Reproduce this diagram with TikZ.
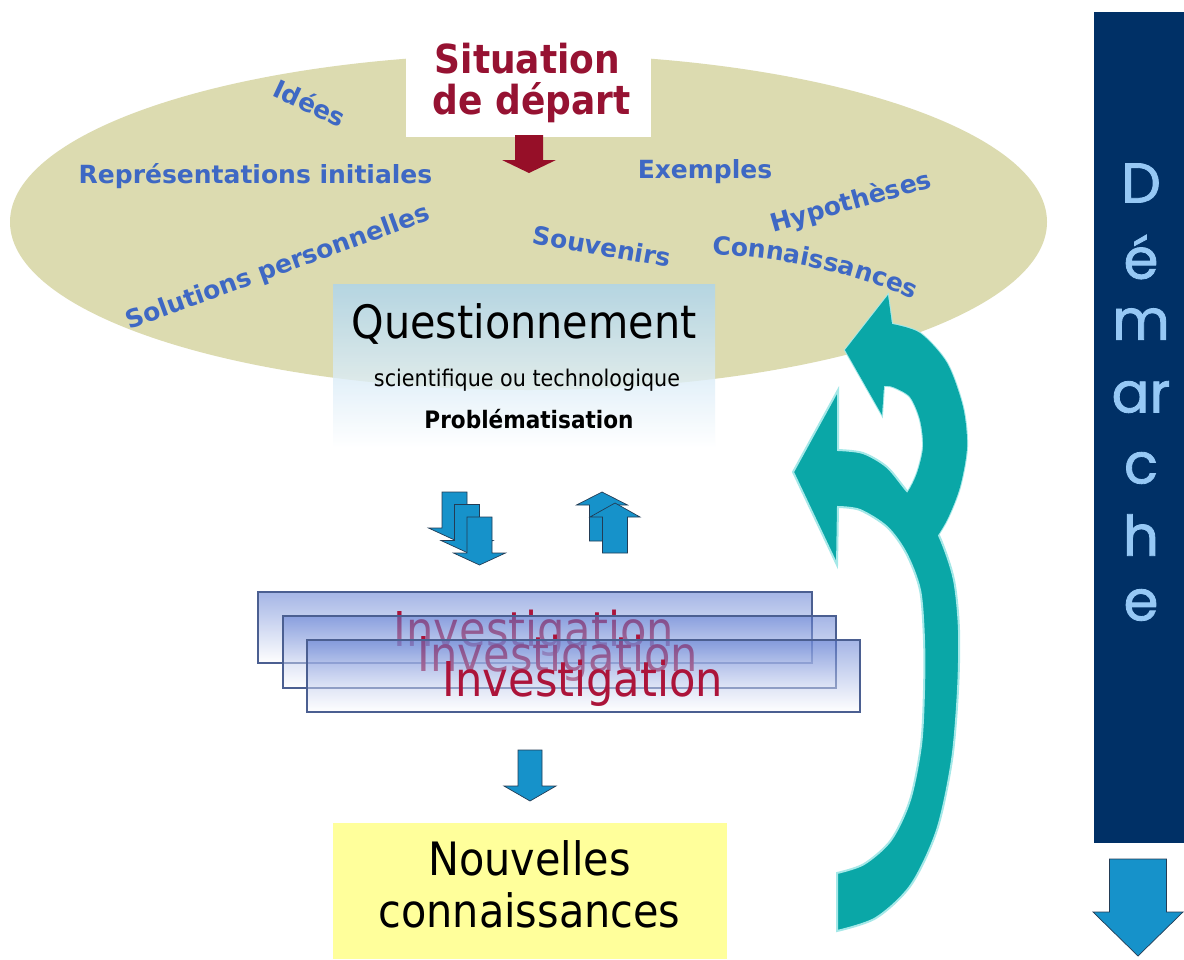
\documentclass[tikz,border=0pt]{standalone}
\usepackage{fontspec}
\usetikzlibrary{decorations.text}
\setmainfont{DejaVu Sans}
\newfontfamily\tah[FakeStretch=0.9]{DejaVu Sans}
\newfontfamily\comic[FakeBold=1.5]{Poppins}
\definecolor{khaki}{RGB}{220,219,176}
\definecolor{wordblue}{RGB}{62,104,196}
\definecolor{sitred}{RGB}{150,18,50}
\definecolor{invred}{RGB}{172,20,58}
\definecolor{arrblue}{RGB}{22,146,202}
\definecolor{arredge}{RGB}{35,60,85}
\definecolor{tealc}{RGB}{10,167,167}
\definecolor{tealedge}{RGB}{165,232,232}
\definecolor{navy}{RGB}{0,48,102}
\definecolor{letblue}{RGB}{150,200,245}
\definecolor{qtop}{RGB}{172,212,238}
\definecolor{invtop}{RGB}{92,122,210}
\definecolor{invedge}{RGB}{75,95,145}
\definecolor{nyellow}{RGB}{255,255,155}
\definecolor{darrred}{RGB}{150,15,40}
\newcommand{\blockarr}[7]{\path[#1] ({#2-#6},#3) -- ({#2+#6},#3) -- ({#2+#6},#4) -- ({#2+#7},#4) -- (#2,#5) -- ({#2-#7},#4) -- ({#2-#6},#4) -- cycle;}
\begin{document}
\begin{tikzpicture}[x=1pt,y=-1pt,
  word/.style={text=wordblue,font=\bfseries\fontsize{25}{30}\selectfont,inner sep=0pt},
  sit/.style={text=sitred,font=\tah\bfseries\fontsize{40}{44}\selectfont,inner sep=0pt,anchor=base},
  big/.style={font=\tah\fontsize{46}{50}\selectfont,inner sep=0pt,anchor=base},
  inv/.style={text=invred,font=\tah\fontsize{48}{50}\selectfont,inner sep=0pt,anchor=base},
  invbox/.style={top color=invtop,bottom color=white,opacity=0.55},
  invline/.style={draw=invedge,line width=1.1pt},
  smallarr/.style={fill=arrblue,draw=arredge,line width=0.7pt},
  halo/.style={draw=tealedge,line width=2pt},
  letter/.style={text=letblue,font=\comic\fontsize{56}{56}\selectfont,inner sep=0pt}]
\useasboundingbox (0,0) rectangle (1184,959);
\fill[white] (0,0) rectangle (1184,959);
% ellipse
\fill[khaki] (528.5,222) ellipse [x radius=518.5pt, y radius=168pt];
% teal arrows: halo of the small one, then big one, then small fill
\path[halo] (888,295) -- (892,324)
  -- plot[smooth] coordinates {(892,324) (920,333) (947,363) (963,407) (967,447) (960,487) (947,520) (931,546)}
  -- (890,512)
  -- plot[smooth] coordinates {(890,512) (907,493) (917,473) (923,447) (920,420) (910,397) (893,387) (884,386)}
  -- (882,415) -- (845,350) -- cycle;
\path[halo,fill=tealc] (838,390) -- (793,472) -- (837,565) -- (838,507)
  -- plot[smooth] coordinates {(838,507) (860,510) (887,527) (906,553) (920,590) (924,640) (924,690) (921,745) (910,800) (891,840) (864,864) (837,873)}
  -- (837,931)
  -- plot[smooth] coordinates {(837,931) (876,918) (911,885) (937,830) (952,760) (958,690) (959,630) (954,580) (941,540) (925,510) (907,491) (887,467) (863,453) (838,450)}
  -- cycle;
\fill[tealc] (888,295) -- (892,324)
  -- plot[smooth] coordinates {(892,324) (920,333) (947,363) (963,407) (967,447) (960,487) (947,520) (931,546)}
  -- (890,512)
  -- plot[smooth] coordinates {(890,512) (907,493) (917,473) (923,447) (920,420) (910,397) (893,387) (884,386)}
  -- (882,415) -- (845,350) -- cycle;
% words
\node[word,rotate=-25] (idees) at (310,103) {Idées};
\node[word] (repr) at (255.5,176) {Représentations initiales};
\node[word,rotate=20] (sol) at (278,268) {Solutions personnelles};
\node[word] (ex) at (705,172) {Exemples};
\node[word,rotate=16] (hyp) at (851,203) {Hypothèses};
\node[word,rotate=-10] (souv) at (602,246) {Souvenirs};
\path[decorate,decoration={text along path,text align=center,
  text={|\bfseries\fontsize{25}{30}\selectfont\color{wordblue}|Connaissances}}]
  (704,254) .. controls (775,256) and (855,272) .. (921,303);
\coordinate (conn) at (812,273);
% situation de depart
\fill[white] (406,28) rectangle (651,137);
\node[sit] (sit1) at (527.5,73) {Situation};
\node[sit] (sit2) at (531.5,114) {de départ};
\blockarr{fill=darrred}{529}{135}{160}{173}{14}{27}
% questionnement
\shade[top color=qtop,bottom color=white,opacity=0.8] (333,284) rectangle (715,447);
\node[big] (quest) at (524,338) {Questionnement};
\node[anchor=base,inner sep=0pt,font=\tah\fontsize{23}{26}\selectfont] (sci) at (527,386) {scientifique ou technologique};
\node[anchor=base,inner sep=0pt,font=\tah\bfseries\fontsize{24}{26}\selectfont] (prob) at (529,428) {Problématisation};
% small arrows
\blockarr{smallarr}{454.5}{492}{528}{540}{12.5}{26}
\blockarr{smallarr}{467}{504.5}{540.5}{552.5}{12.5}{26}
\blockarr{smallarr}{479.5}{517}{553}{565}{12.5}{26}
\blockarr{smallarr}{602}{541}{505}{492}{12.5}{25.5}
\blockarr{smallarr}{615}{553}{517}{503}{12.5}{25}
% investigation boxes
\shade[invbox] (258,592) rectangle (812,663);
\draw[invline] (258,592) rectangle (812,663);
\node[inv] (inv1) at (534,646) {Investigation};
\shade[invbox] (283,616) rectangle (836,688);
\draw[invline] (283,616) rectangle (836,688);
\node[inv] (inv2) at (558,671) {Investigation};
\shade[invbox] (307,640) rectangle (860,712);
\draw[invline] (307,640) rectangle (860,712);
\node[inv] (inv3) at (583,696) {Investigation};
\blockarr{smallarr}{530}{750}{786}{801}{12}{26}
% nouvelles connaissances
\fill[nyellow] (333,823) rectangle (727,959);
\node[big] (nouv) at (529.5,875) {Nouvelles};
\node[big] (conn2) at (529.5,927) {connaissances};
% demarche
\fill[navy] (1094,12) rectangle (1184,843);
\node[letter] (lD) at (1141,183) {D};
\node[letter] (le1) at (1141,257) {é};
\node[letter] (lm) at (1141,324) {m};
\node[letter] (lar) at (1141,397) {ar};
\node[letter] (lc) at (1141,468) {c};
\node[letter] (lh) at (1141,535) {h};
\node[letter] (le2) at (1141,605) {e};
\blockarr{smallarr}{1138}{859}{912}{956}{28.5}{45}
\end{tikzpicture}
\end{document}
